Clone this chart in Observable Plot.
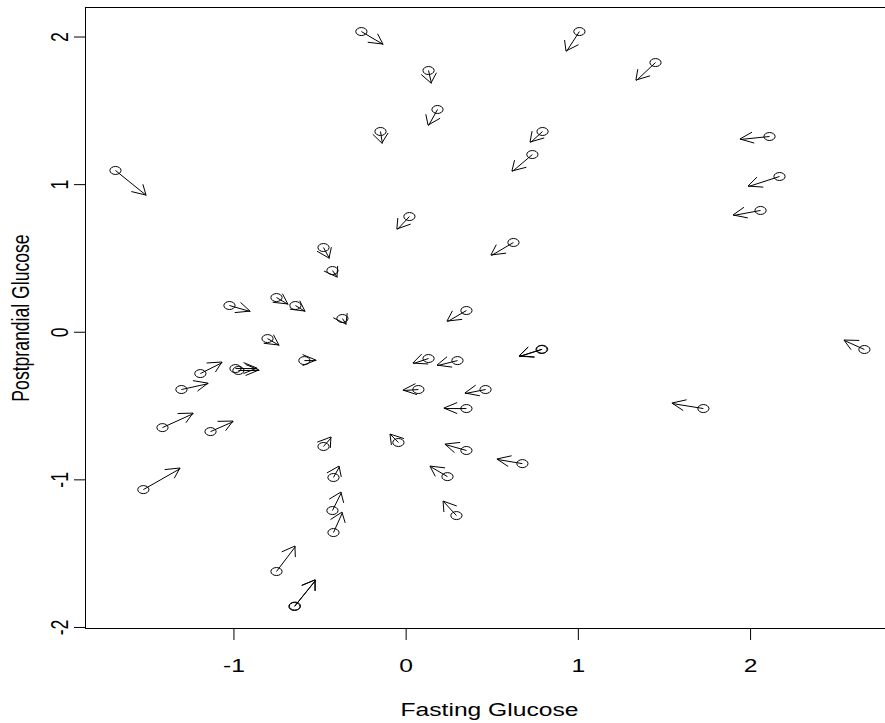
<!DOCTYPE html>
<html><head><meta charset="utf-8">
<script src="https://cdn.jsdelivr.net/npm/d3@7"></script>
<script src="https://cdn.jsdelivr.net/npm/@observablehq/plot@0.6"></script>
<style>body{margin:0;background:#fff;} svg{font-family:"Liberation Sans",Arial,sans-serif;}</style>
</head><body><div id="chart"></div>
<script>
// Arrow start (circle) positions
const fastingStart = [-1.688,-0.260,1.006,1.448,0.130,0.182,-0.149,0.792,0.733,2.110,2.168,2.058,0.019,0.623,-0.480,-0.428,-1.026,-0.753,-0.643,-0.370,0.350,-0.805,-0.591,-0.991,-0.974,-1.195,-1.305,0.130,0.298,0.786,0.790,0.071,0.461,0.350,-1.415,-1.136,1.726,2.661,-0.480,-0.045,0.350,0.675,-0.422,0.240,-1.526,-0.428,-0.422,0.292,-0.753,-0.649,-0.646];
const postprandialStart = [1.096,2.037,2.037,1.827,1.773,1.509,1.360,1.360,1.204,1.326,1.055,0.825,0.784,0.608,0.574,0.418,0.181,0.235,0.181,0.093,0.147,-0.043,-0.192,-0.246,-0.259,-0.280,-0.388,-0.178,-0.192,-0.117,-0.115,-0.388,-0.388,-0.517,-0.646,-0.673,-0.517,-0.117,-0.774,-0.747,-0.801,-0.890,-0.984,-0.978,-1.066,-1.208,-1.357,-1.242,-1.621,-1.858,-1.855];
// Arrow end positions
const fastingEnd = [-1.508,-0.132,0.931,1.337,0.147,0.130,-0.138,0.722,0.617,1.941,1.988,1.901,-0.051,0.495,-0.445,-0.399,-0.904,-0.684,-0.585,-0.347,0.240,-0.736,-0.521,-0.864,-0.852,-1.067,-1.148,0.042,0.182,0.658,0.660,-0.016,0.344,0.222,-1.235,-1.003,1.546,2.545,-0.434,-0.091,0.228,0.530,-0.387,0.141,-1.311,-0.376,-0.370,0.217,-0.643,-0.527,-0.525];
const postprandialEnd = [0.926,1.949,1.902,1.705,1.685,1.400,1.278,1.285,1.089,1.306,0.987,0.791,0.696,0.520,0.499,0.371,0.140,0.188,0.140,0.052,0.072,-0.090,-0.192,-0.246,-0.259,-0.205,-0.348,-0.212,-0.226,-0.165,-0.163,-0.395,-0.415,-0.517,-0.551,-0.605,-0.483,-0.056,-0.713,-0.693,-0.761,-0.862,-0.910,-0.910,-0.923,-1.086,-1.222,-1.147,-1.452,-1.682,-1.680];

const xTicks = [-1, 0, 1, 2];
const yTicks = [-2, -1, 0, 1, 2];
const xTitle = "Fasting Glucose";
const yTitle = "Postprandial Glucose";

const data = fastingStart.map((x, i) => ({x0: x, y0: postprandialStart[i], x1: fastingEnd[i], y1: postprandialEnd[i]}));

const S = 1.4;      // horizontal stretch of the reference rendering
const FS = 17.6;    // font size

const ellipseSymbol = {
  draw(ctx, size) {
    const r = Math.sqrt(size / Math.PI), rx = r * S, ry = r, k = 0.5523;
    ctx.moveTo(rx, 0);
    ctx.bezierCurveTo(rx, ry * k, rx * k, ry, 0, ry);
    ctx.bezierCurveTo(-rx * k, ry, -rx, ry * k, -rx, 0);
    ctx.bezierCurveTo(-rx, -ry * k, -rx * k, -ry, 0, -ry);
    ctx.bezierCurveTo(rx * k, -ry, rx, -ry * k, rx, 0);
    ctx.closePath();
  }
};

function arrowHeads(index, scales, values) {
  const g = d3.create("svg:g").attr("fill", "none").attr("stroke", "black").attr("stroke-width", 1);
  for (const i of index) {
    const X1 = values.x1[i], Y1 = values.y1[i], X2 = values.x2[i], Y2 = values.y2[i];
    const a = Math.atan2(Y2 - Y1, (X2 - X1) / S);
    const L = 11, w = Math.PI / 6;
    const p = [
      [X2 - L * Math.cos(a - w) * S, Y2 - L * Math.sin(a - w)],
      [X2, Y2],
      [X2 - L * Math.cos(a + w) * S, Y2 - L * Math.sin(a + w)]
    ];
    g.append("path").attr("d", "M" + p.map(q => q.join(",")).join("L"));
  }
  return g.node();
}

const chart = Plot.plot({
  width: 885,
  height: 723,
  marginLeft: 85,
  marginRight: -8,
  marginTop: 7,
  marginBottom: 95,
  style: {fontFamily: "'Liberation Sans', Arial, sans-serif", fontSize: FS + "px", color: "black", background: "white"},
  x: {domain: [-1.862, 2.830]},
  y: {domain: [-2.007, 2.200]},
  marks: [
    Plot.frame({stroke: "black", strokeWidth: 1}),
    Plot.axisX({ticks: xTicks, tickSize: 12, tickPadding: 19, tickFormat: d => String(d), label: null, fontSize: FS}),
    Plot.axisY({ticks: yTicks, tickSize: 11, tickFormat: () => "", label: null}),
    Plot.text(yTicks, {y: d => d, text: d => String(d), frameAnchor: "left", dx: -25, textAnchor: "middle", lineAnchor: "middle", fontSize: FS, fill: "black", className: "ylabels"}),
    Plot.text([yTitle], {text: d => d, frameAnchor: "left", dx: -64, textAnchor: "middle", lineAnchor: "middle", fontSize: FS, fill: "black", className: "ytitle"}),
    Plot.text([xTitle], {text: d => d, frameAnchor: "bottom", dy: 82, textAnchor: "middle", lineAnchor: "middle", fontSize: FS, fill: "black", className: "xtitle"}),
    Plot.link(data, {x1: "x0", y1: "y0", x2: "x1", y2: "y1", stroke: "black", strokeWidth: 1}),
    Plot.link(data, {x1: "x0", y1: "y0", x2: "x1", y2: "y1", render: arrowHeads}),
    Plot.dot(data, {x: "x0", y: "y0", r: 4, symbol: ellipseSymbol, stroke: "black", strokeWidth: 1, fill: "none"})
  ]
});

function stretch(nodes, sc) {
  nodes.forEach(t => {
    let tr = t.getAttribute("transform");
    if (!tr) {
      const x = t.getAttribute("x") || 0, y = t.getAttribute("y") || 0;
      t.removeAttribute("x"); t.removeAttribute("y");
      tr = `translate(${x},${y})`;
    }
    t.setAttribute("transform", tr + " " + sc);
  });
}
const xTexts = [...chart.querySelectorAll('g[aria-label="x-axis tick label"] text, .xtitle text')];
stretch(xTexts, `scale(${S},1)`);
const yTexts = [...chart.querySelectorAll('.ylabels text, .ytitle text')];
stretch(yTexts, `rotate(-90) scale(1,${S})`);

document.getElementById("chart").appendChild(chart);
</script>
</body></html>
